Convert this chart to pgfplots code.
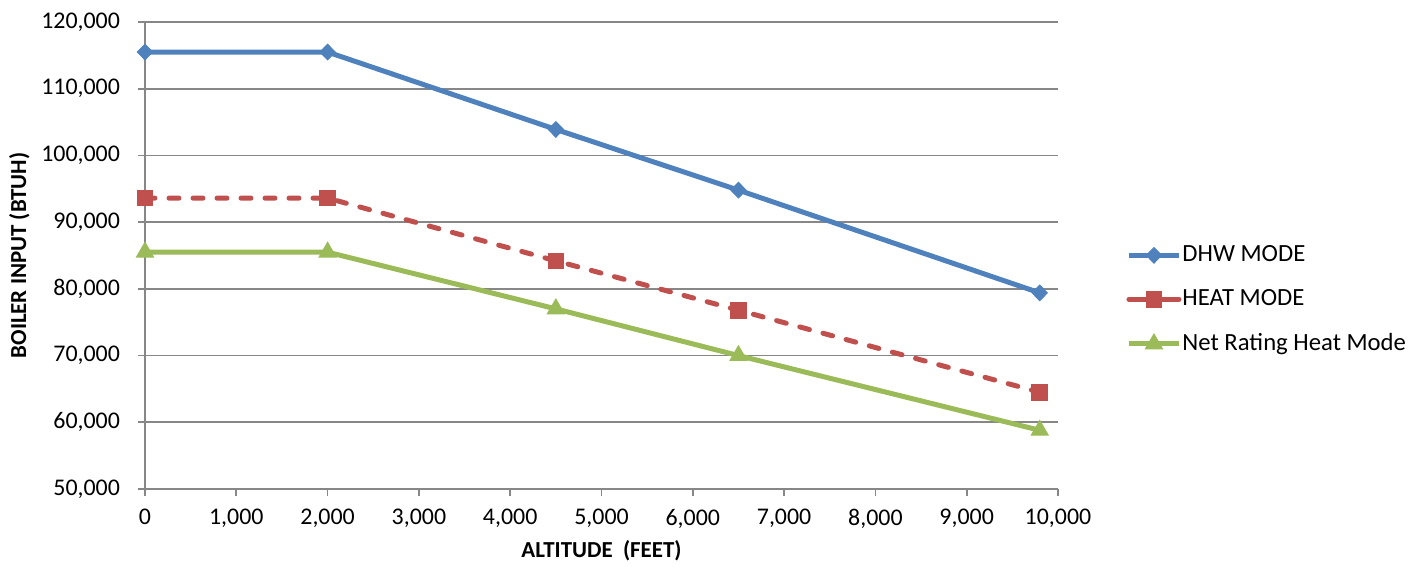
\documentclass[border=0pt]{standalone}
\usepackage{fontspec}
\setmainfont{Carlito}
\usepackage{pgfplots}
\pgfplotsset{compat=1.18}
\definecolor{cblue}{HTML}{4F81BD}
\definecolor{cred}{HTML}{C0504D}
\definecolor{cgreen}{HTML}{9BBB59}
\definecolor{cgrid}{HTML}{878787}
\begin{document}
\begin{tikzpicture}
\useasboundingbox (-72.5bp,-41bp) rectangle (639bp,244.5bp);
\begin{axis}[
  scale only axis,
  width=456.5bp, height=233.5bp,
  xmin=0, xmax=10000, ymin=50000, ymax=120000,
  axis x line*=bottom, axis y line*=left,
  axis line style={cgrid, line width=0.9bp, -},
  xtick={0,1000,...,10000},
  ytick={50000,60000,...,120000},
  scaled ticks=false,
  tick align=outside,
  major tick length=3.5bp,
  tick style={cgrid, line width=0.9bp},
  ymajorgrids,
  grid style={cgrid, line width=0.9bp},
  /pgf/number format/.cd, fixed, 1000 sep={,}, assume math mode=true,
  /pgfplots/.cd,
  ticklabel style={font=\fontsize{12}{14}\selectfont, text=black},
  xticklabel style={yshift=-3bp},
  yticklabel style={xshift=-5.5bp},
  xlabel={\textbf{ALTITUDE\ \ (FEET)}},
  ylabel={\textbf{BOILER INPUT (BTUH)}},
  label style={font=\fontsize{11.5}{13}\selectfont},
  xlabel style={yshift=1bp},
  ylabel style={yshift=-1bp},
  legend style={at={(rel axis cs:1.068,0.405)}, anchor=west, draw=none,
    font=\fontsize{12.4}{14}\selectfont, row sep=8.5bp,
    nodes={inner xsep=0.5bp},
    /tikz/every even column/.append style={column sep=0bp}},
  legend cell align=left,
  legend image code/.code={\draw[#1, solid, mark repeat=2, mark phase=2] plot coordinates {(0bp,0bp) (12.5bp,0bp) (25bp,0bp)};},
]
\addplot[cblue, line width=2.5bp, mark=diamond*, mark size=3.9bp,
  mark options={solid, fill=cblue, draw=cblue, line width=0.5bp, xscale=1.3}]
  coordinates {(0,115500) (2000,115500) (4500,103900) (6500,94800) (9800,79400)};
\addlegendentry{DHW MODE}
\addplot[cred, line width=2.5bp, line cap=round, dash pattern=on 5bp off 7bp, mark=square*, mark size=3.9bp,
  mark options={solid, fill=cred, draw=cred, line width=0.5bp}]
  coordinates {(0,93600) (2000,93600) (4500,84200) (6500,76800) (9800,64500)};
\addlegendentry{HEAT MODE}
\addplot[cgreen, line width=2.5bp, mark=triangle*, mark size=4.9bp,
  mark options={solid, fill=cgreen, draw=cgreen, line width=0.5bp}]
  coordinates {(0,85500) (2000,85500) (4500,77000) (6500,70000) (9800,58800)};
\addlegendentry{Net Rating Heat Mode}
\end{axis}
\end{tikzpicture}
\end{document}
